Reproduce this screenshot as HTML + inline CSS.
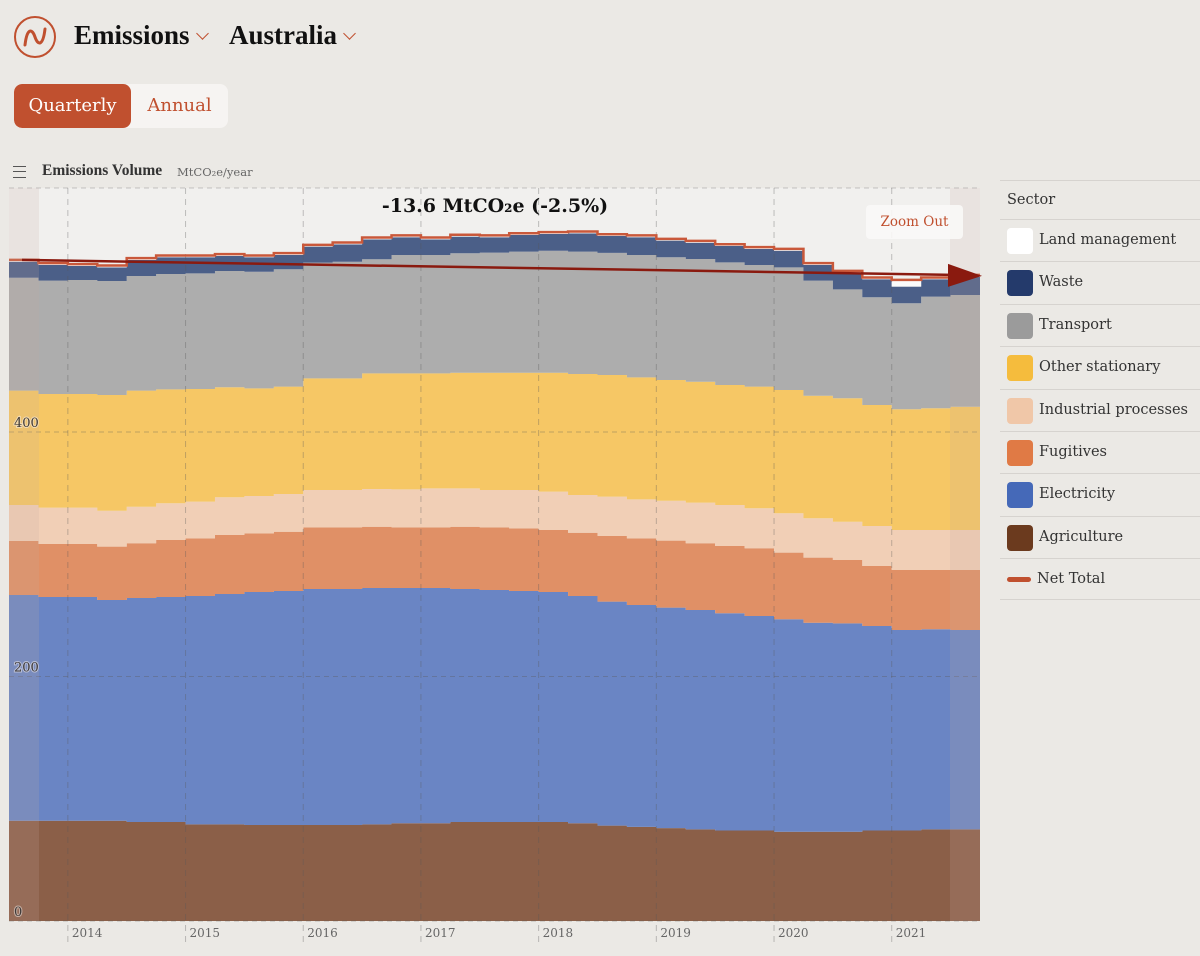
<!DOCTYPE html>
<html><head><meta charset="utf-8"><title>Emissions</title>
<style>
body{margin:0;width:1200px;height:956px;background:#ebe9e5;font-family:"DejaVu Serif","Liberation Serif",serif;position:relative;overflow:hidden;color:#222}
.abs{position:absolute}
.hdr{font-family:"Liberation Serif",serif;font-weight:bold;font-size:27px;color:#111}
.caret{display:inline-block;width:8px;height:8px;border-right:1.5px solid #c0502f;border-bottom:1.5px solid #c0502f;transform:rotate(45deg);margin-left:8px;vertical-align:6px}
.leg-row{position:absolute;left:1000px;width:200px;height:42px;border-top:1px solid #d6d3cf}
.sw{position:absolute;left:7px;top:8px;width:26px;height:26px;border-radius:4px}
.lt{position:absolute;left:39px;top:12px;font-size:14.5px;color:#333;white-space:nowrap}
</style></head><body>
<div class="abs" style="left:14px;top:16px;width:38px;height:38px;border:2px solid #c0502f;border-radius:50%">
<svg width="38" height="38" viewBox="0 0 38 38"><path d="M9 27 C11 10,16 10,19 19 C22 28,27 28,29 11" stroke="#c0502f" stroke-width="3" fill="none" stroke-linecap="round"/></svg></div>
<div class="abs hdr" style="left:74px;top:20px">Emissions<span class="caret"></span></div>
<div class="abs hdr" style="left:229px;top:20px">Australia<span class="caret"></span></div>
<div class="abs" style="left:14px;top:84px;width:214px;height:44px;border-radius:8px;background:#f6f4f2;overflow:hidden">
<div class="abs" style="left:0;top:0;width:117px;height:44px;background:#c0502f;color:#fff;font-size:18px;line-height:44px;text-align:center;border-radius:8px">Quarterly</div>
<div class="abs" style="left:117px;top:0;width:97px;height:44px;color:#c0502f;font-size:18px;line-height:44px;text-align:center">Annual</div></div>
<div class="abs" style="left:13px;top:166px;width:13px;height:10px;border-top:1.5px solid #555;border-bottom:1.5px solid #555"><div style="margin-top:4px;border-top:1.5px solid #555"></div></div>
<div class="abs" style="left:42px;top:162px;font-family:'Liberation Serif',serif;font-size:15.5px;font-weight:bold;color:#333">Emissions Volume</div>
<div class="abs" style="left:177px;top:165px;font-size:11.5px;color:#666">MtCO₂e/year</div>

<svg class="abs" style="left:0;top:0" width="1000" height="956" id="chart"></svg>

<div class="abs" style="left:300px;top:195px;width:390px;text-align:center;font-size:19px;font-weight:bold;color:#111">-13.6 MtCO₂e (-2.5%)</div>
<div class="abs" style="left:866px;top:205px;width:97px;height:34px;background:rgba(250,248,247,0.9);border-radius:4px;color:#c0502f;font-size:13.5px;line-height:34px;text-align:center">Zoom Out</div>

<div class="leg-row" style="top:180px;height:39px"><div class="lt" style="left:7px;top:11px;color:#333">Sector</div></div>
<div id="legend"></div>
<div class="abs" style="left:1000px;top:599px;width:200px;border-top:1px solid #d6d3cf"></div>

<script>
const quarters=["2013Q3","2013Q4","2014Q1","2014Q2","2014Q3","2014Q4","2015Q1","2015Q2","2015Q3","2015Q4","2016Q1","2016Q2","2016Q3","2016Q4","2017Q1","2017Q2","2017Q3","2017Q4","2018Q1","2018Q2","2018Q3","2018Q4","2019Q1","2019Q2","2019Q3","2019Q4","2020Q1","2020Q2","2020Q3","2020Q4","2021Q1","2021Q2","2021Q3"];
const agriculture=[82,82,82,82,81,81,79,79,78.5,78.5,78.5,78.5,79,80,80,81,81,81,81,80,78,77,76,75,74,74,73,73,73,74,74,75,75];
const electricity=[184.7,183,183,180.6,183.2,184,186.8,188.5,190.6,191.4,193.1,193.1,193.4,192.4,192.4,190.6,189.8,188.9,188.1,185.8,183.2,181.5,180.3,179.4,177.7,175.5,173.8,171,170.5,167.3,164,163.6,163];
const fugitives=[44.1,43.4,43.4,43.6,44.8,46.7,47.2,48.2,48,48.5,50.4,50.4,50.1,49.6,49.6,50.9,51.2,51.3,50.7,51.8,53.7,54.5,54.8,54.6,55,55.4,54.5,53.2,51.8,49.1,49.1,48.5,49.1];
const industrial=[29.5,29.7,29.7,29.4,29.9,30,30,30.9,30.5,30.9,30.6,30.6,30.9,31.1,31.9,31.4,30.6,31.4,31.4,30.9,32.2,31.9,32.7,33.2,33.6,32.7,32.2,32.2,31.3,32.7,32.7,32.7,32.7];
const otherStationary=[93.5,93,93,94.7,94.9,93.2,92.2,90,88.1,87.8,91.3,91.3,94.6,94.9,94.1,94.6,95.9,95.9,97.3,98.9,99.5,99.8,98.7,98.9,98.1,99.5,100.9,100.3,101,99,98.8,99.6,100.9];
const transport=[92.4,92.7,93.2,93.2,93.8,94.3,94.6,95.1,95.4,96,94.6,95.4,93.3,96.8,96.8,97.7,98.2,99,99.8,100.1,99.9,100.1,100.4,100.4,100.4,99.5,100.3,94.1,89.1,88.1,86.7,91.3,91.4];
const waste=[13.1,12.8,11.5,11.2,13.1,13.7,13.1,12.3,11.8,11.7,13.1,14.2,16.3,14.5,12.8,13.6,12.6,13.6,13.7,15,13.8,14.5,13.6,13.3,13.3,13.1,13.6,12.8,13.6,14.7,13.6,14.2,14.9];
const landManagement=[1.5,1.5,1.5,1.5,1.5,1.5,1.5,1.5,1.5,1.5,1.5,1.5,1.5,1.5,1.5,1.5,1.5,1.5,1.5,1.5,1.5,1.5,1.5,1.5,1.5,1.5,1.5,1.5,1.5,1.5,5.5,1.5,1.5];
const yTicks=[0,200,400];
const yTickLabels=["0","200","400"];
const xTickYears=["2014","2015","2016","2017","2018","2019","2020","2021"];

const sectors=[
 {name:"Agriculture",vals:agriculture,fill:"#8b5f48",leg:"#6b3a1e"},
 {name:"Electricity",vals:electricity,fill:"#6a85c4",leg:"#4569b8"},
 {name:"Fugitives",vals:fugitives,fill:"#e09066",leg:"#e07a45"},
 {name:"Industrial processes",vals:industrial,fill:"#f1cfb6",leg:"#f0c7a8"},
 {name:"Other stationary",vals:otherStationary,fill:"#f6c765",leg:"#f5bc3d"},
 {name:"Transport",vals:transport,fill:"#adadad",leg:"#9b9b9b"},
 {name:"Waste",vals:waste,fill:"#4b5f88",leg:"#243a6b"},
 {name:"Land management",vals:landManagement,fill:"#fbfbfb",leg:"#ffffff"}
];
const X0=9,X1=980,Y0=921,YT=188,PX=1.2225;
const qw=(X1-X0)/quarters.length;
function xs(i){return X0+i*qw;}
function ys(v){return Y0-v*PX;}
const NS="http://www.w3.org/2000/svg";
const svg=document.getElementById('chart');
function mk(t,a){const e=document.createElementNS(NS,t);for(const k in a)e.setAttribute(k,a[k]);svg.appendChild(e);return e;}

const bg=mk('rect',{x:X0,y:YT,width:X1-X0,height:Y0-YT,fill:'#f1f0ee'});



const n=quarters.length;
let base=new Array(n).fill(0);
sectors.forEach(s=>{
  const top=base.map((b,i)=>b+s.vals[i]);
  let d='';
  for(let i=0;i<n;i++){d+=(i?'L':'M')+xs(i)+','+ys(top[i])+'L'+xs(i+1)+','+ys(top[i]);}
  for(let i=n-1;i>=0;i--){d+='L'+xs(i+1)+','+ys(base[i])+'L'+xs(i)+','+ys(base[i]);}
  const p=mk('path',{d:d+'Z',fill:s.fill});
  
  
  base=top;
});
const net=base;

// grid
yTicks.forEach((t,k)=>{
  const g=mk('line',{x1:X0,x2:X1,y1:ys(t),y2:ys(t),stroke:'rgba(90,90,90,0.35)','stroke-dasharray':'5,4','stroke-width':1});
  
  
  const tx=mk('text',{x:14,y:ys(t)-5,'font-size':13,fill:'#222','font-family':'DejaVu Serif, serif',stroke:'rgba(255,255,255,0.5)','stroke-width':2,'paint-order':'stroke'});
  tx.textContent=yTickLabels[k];
  
  
});
const tg=mk('line',{x1:X0,x2:X1,y1:YT,y2:YT,stroke:'rgba(90,90,90,0.3)','stroke-dasharray':'5,4'});


xTickYears.forEach(yr=>{
  const i=quarters.indexOf(yr+"Q1");
  const x=xs(i);
  const g=mk('line',{x1:x,x2:x,y1:YT,y2:Y0+24,stroke:'rgba(90,90,90,0.35)','stroke-dasharray':'6,5'});
  
  
  const tx=mk('text',{x:x+4,y:Y0+16,'font-size':12,fill:'#666','font-family':'DejaVu Serif, serif'});
  tx.textContent=yr;
  
  
});

// net total line
let nd='';
for(let i=0;i<n;i++){nd+=(i?'L':'M')+xs(i)+','+ys(net[i])+'L'+xs(i+1)+','+ys(net[i]);}
const nl=mk('path',{d:nd,fill:'none',stroke:'#c9583a','stroke-width':2.5});



// side overlays
const o1=mk('rect',{x:X0,y:YT,width:30,height:Y0-YT,fill:'rgba(200,170,160,0.18)'});


const o2=mk('rect',{x:950,y:YT,width:X1-950,height:Y0-YT,fill:'rgba(200,170,160,0.18)'});



// trend arrow
const ax1=22,ay1=ys(net[0]),ax2=952,ay2=ys(net[n-1]);
const tl=mk('line',{x1:ax1,y1:ay1,x2:ax2,y2:ay2,stroke:'#8a1a0f','stroke-width':2.5});


const ah=mk('polygon',{points:(ax2-4)+','+(ay2-11)+' '+(ax2+30)+','+(ay2+1)+' '+(ax2-4)+','+(ay2+12),fill:'#8a1a0f'});



// legend
const legendOrder=["Land management","Waste","Transport","Other stationary","Industrial processes","Fugitives","Electricity","Agriculture"];
const lg=document.getElementById('legend');
legendOrder.forEach((nm,k)=>{
  const s=sectors.find(q=>q.name===nm);
  const r=document.createElement('div');
  r.className='leg-row';
  r.style.top=(219+k*42.4)+'px';
  
  
  r.innerHTML='<div class="sw" style="background:'+s.leg+'"></div><div class="lt">'+nm+'</div>';
  lg.appendChild(r);
});
const r=document.createElement('div');
r.className='leg-row';
r.style.top=(219+8*42.4)+'px';
r.style.height='41px';


r.innerHTML='<div style="position:absolute;left:7px;top:18px;width:24px;height:5px;border-radius:3px;background:#c0502f"></div><div class="lt" style="left:37px">Net Total</div>';
lg.appendChild(r);
</script>
</body></html>
